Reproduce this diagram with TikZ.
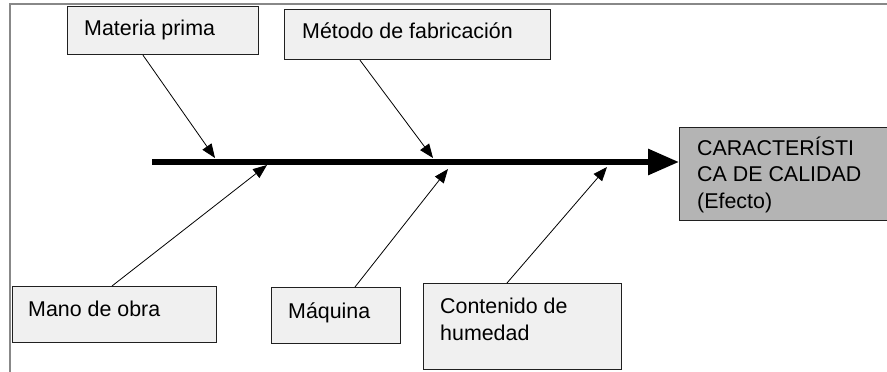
\documentclass[tikz,border=0pt]{standalone}
\usepackage{fontspec}
\setmainfont{Liberation Sans}
\usetikzlibrary{arrows.meta}
\definecolor{boxfill}{HTML}{F0F0F0}
\definecolor{effectfill}{HTML}{B4B4B4}
\definecolor{framegray}{HTML}{888888}
\definecolor{edgecol}{HTML}{202020}
\tikzset{
  causebox/.style={draw=edgecol, line width=1.2pt, fill=boxfill, rectangle, inner sep=0pt, anchor=north west},
  effectbox/.style={draw=edgecol, line width=1.2pt, fill=effectfill, rectangle, inner sep=0pt, anchor=north west},
  boxtext/.style={anchor=base west, inner sep=0pt, align=left, font=\fontsize{21.4}{26.5}\selectfont, text=black},
  spine/.style={line width=6pt, -{Triangle[length=31pt,width=25pt]}},
  bone/.style={line width=0.8pt, -{Triangle[length=14pt,width=11pt]}},
}
\begin{document}
\begin{tikzpicture}[x=1pt, y=-1pt]
\useasboundingbox (0,0) rectangle (887,372);
% frame
\draw[framegray, line width=2pt] (10,372) -- (10,4) -- (890,4);
% cause boxes
\node[causebox, minimum width=191pt, minimum height=48pt] (mp) at (67,6) {};
\node[causebox, minimum width=266pt, minimum height=50pt] (mf) at (284,9) {};
\node[causebox, minimum width=204pt, minimum height=56pt] (mo) at (12,286) {};
\node[causebox, minimum width=129pt, minimum height=56pt] (mq) at (271,287) {};
\node[causebox, minimum width=198pt, minimum height=86pt] (ch) at (423,283) {};
% effect box
\node[effectbox, minimum width=215pt, minimum height=93pt] (ef) at (679,127) {};
% texts (multi-line nodes: base is the last line)
\node[boxtext] (tmp) at ([xshift=17pt, yshift=-29pt]mp.north west) {Materia prima};
\node[boxtext] (tmf) at ([xshift=18pt, yshift=-29pt]mf.north west) {Método de fabricación};
\node[boxtext] (tmo) at ([xshift=16pt, yshift=-30pt]mo.north west) {Mano de obra};
\node[boxtext] (tmq) at ([xshift=17pt, yshift=-31pt]mq.north west) {Máquina};
\node[boxtext] (tch) at ([xshift=17pt, yshift=-57pt]ch.north west) {Contenido de\\humedad};
\node[boxtext] (tef) at ([xshift=18pt, yshift=-81pt]ef.north west) {CARACTERÍSTI\\CA DE CALIDAD\\(Efecto)};
% spine
\coordinate (tail) at (152,162);
\draw[spine] (tail) -- (tail -| ef.west);
% bone tips
\coordinate (p1) at (215,158);
\coordinate (p2) at (433,158);
\coordinate (p3) at (267,165);
\coordinate (p4) at (448,169);
\coordinate (p5) at (607,167);
% bones
\draw[bone] ([xshift=76pt]mp.south west) -- (p1);
\draw[bone] ([xshift=76pt]mf.south west) -- (p2);
\draw[bone] ([xshift=100pt]mo.north west) -- (p3);
\draw[bone] ([xshift=84pt]mq.north west) -- (p4);
\draw[bone] ([xshift=84pt]ch.north west) -- (p5);
\end{tikzpicture}
\end{document}
